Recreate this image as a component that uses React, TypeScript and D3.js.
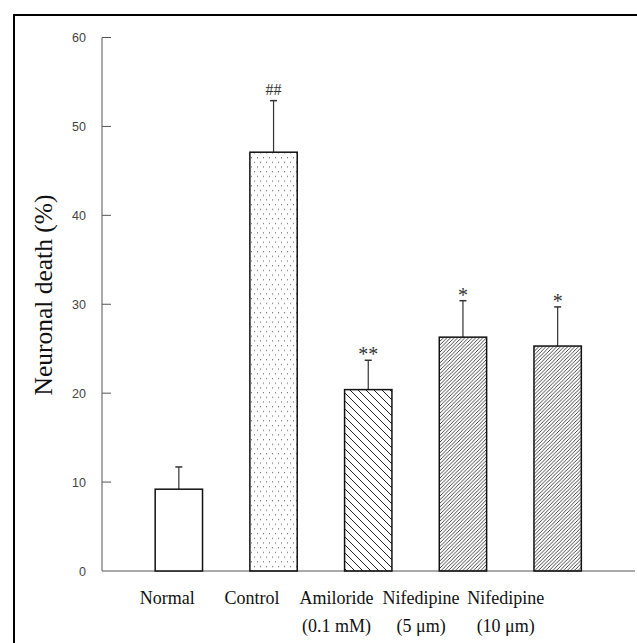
import React from "react";
import * as d3 from "d3";

const categories = ["Normal", "Control", "Amiloride", "Nifedipine5", "Nifedipine10"];
const labelLine1 = ["Normal", "Control", "Amiloride", "Nifedipine", "Nifedipine"];
const labelLine2 = ["", "", "(0.1 mM)", "(5 μm)", "(10 μm)"];
const means = [9.2, 47.1, 20.4, 26.3, 25.3];
const errors = [2.5, 5.8, 3.3, 4.1, 4.4];
const marks = ["", "##", "**", "*", "*"];
const fills = ["white", "url(#dots)", "url(#back)", "url(#fwd)", "url(#fwd)"];
const yTicks = [0, 10, 20, 30, 40, 50, 60];

export default function App() {
  const W = 637, H = 643;
  const x = d3.scaleBand<string>().domain(categories).range([131.5, 605]).paddingInner(0.5).paddingOuter(0.25);
  const xl = d3.scaleBand<string>().domain(categories).range([125, 548]).padding(0);
  const y = d3.scaleLinear().domain([0, 60]).range([571, 37.5]);
  const axisColor = "#555";
  return (
    <svg width={W} height={H} style={{ position: "absolute", left: 0, top: 0 }}>
      <defs>
        <pattern id="dots" width="6" height="9.4" patternUnits="userSpaceOnUse">
          <rect x="2" y="2" width="1.1" height="1.1" fill="#666" />
          <rect x="5" y="6.7" width="1.1" height="1.1" fill="#666" />
        </pattern>
        <pattern id="back" width="8" height="8" patternUnits="userSpaceOnUse">
          <path d="M-2,-2 L10,10 M-2,6 L2,10 M6,-2 L10,2" stroke="#222" strokeWidth="1" />
        </pattern>
        <pattern id="fwd" width="3.6" height="3.6" patternUnits="userSpaceOnUse">
          <path d="M-1,4.6 L4.6,-1 M-1,1 L1,-1 M2.6,4.6 L4.6,2.6" stroke="#333" strokeWidth="0.9" />
        </pattern>
      </defs>
      <rect x={0} y={0} width={W} height={H} fill="white" />
      <rect x={14} y={15} width={W + 10} height={H + 10} fill="none" stroke="black" strokeWidth={2} />
      <line x1={102} x2={102} y1={y(60)} y2={y(0)} stroke={axisColor} strokeWidth={1} />
      <line x1={102} x2={635} y1={y(0)} y2={y(0)} stroke={axisColor} strokeWidth={1} />
      {yTicks.map((t) => (
        <g key={t}>
          {t > 0 && <line x1={102} x2={111} y1={y(t)} y2={y(t)} stroke={axisColor} strokeWidth={1} />}
          <text x={86} y={y(t)} dy="0.36em" textAnchor="end" fontFamily="Liberation Sans, Arial, sans-serif" fontSize={12.5} fill="#444">
            {t}
          </text>
        </g>
      ))}
      <text
        transform={`translate(52,295) rotate(-90)`}
        textAnchor="middle"
        fontFamily="Liberation Serif, Times New Roman, serif"
        fontSize={25.5}
        fill="#111"
      >
        Neuronal death (%)
      </text>
      {categories.map((c, i) => {
        const bx = x(c)!;
        const bw = x.bandwidth();
        const cx = bx + bw / 2;
        const top = y(means[i]);
        const et = y(means[i] + errors[i]);
        return (
          <g key={c}>
            <line x1={cx} x2={cx} y1={top} y2={et} stroke="#333" strokeWidth={1.2} />
            <line x1={cx - 3.5} x2={cx + 3.5} y1={et} y2={et} stroke="#333" strokeWidth={1.5} />
            <rect x={bx} y={top} width={bw} height={y(0) - top} fill={fills[i]} stroke="#111" strokeWidth={1.5} />
            {marks[i] && (
              <text
                x={cx}
                y={marks[i] === "##" ? et - 6 : et + 1}
                textAnchor="middle"
                fontFamily="Liberation Serif, Times New Roman, serif"
                fontSize={marks[i] === "##" ? 16 : 20}
                fill="#333"
              >
                {marks[i]}
              </text>
            )}
          </g>
        );
      })}
      {categories.map((c, i) => {
        const cx = xl(c)! + xl.bandwidth() / 2;
        return (
          <g key={"l" + c} fontFamily="Liberation Serif, Times New Roman, serif" fontSize={18} fill="#111" textAnchor="middle">
            <text x={cx} y={604}>{labelLine1[i]}</text>
            {labelLine2[i] && <text x={cx} y={632}>{labelLine2[i]}</text>}
          </g>
        );
      })}
    </svg>
  );
}
